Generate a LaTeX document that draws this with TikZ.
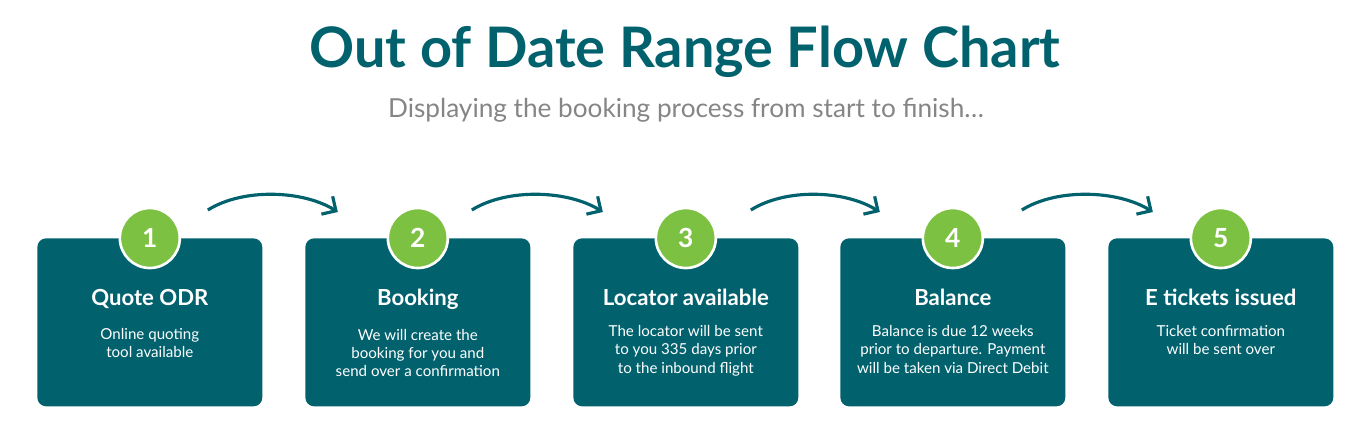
\documentclass[tikz,border=0pt]{standalone}
\usepackage{fontspec}
\setmainfont{Lato}
\usetikzlibrary{positioning,arrows.meta}
\definecolor{odrteal}{HTML}{01626E}
\definecolor{odrgreen}{HTML}{7DC142}
\definecolor{odrgrey}{HTML}{858585}

\begin{document}
\begin{tikzpicture}[x=0.02cm, y=-0.02cm]
        \tikzstyle{stage} = [rectangle, fill=odrteal, rounded corners=5pt,
            minimum width=4.5cm, minimum height=3.36cm, anchor=north west]
        \tikzstyle{badge} = [circle, fill=odrgreen, draw=white, line width=1.5pt,
            minimum size=1.2cm, text=white, font=\fontsize{15}{15}\selectfont\bfseries]
        \tikzstyle{heading} = [text=white, font=\fontsize{12.6}{14}\selectfont\bfseries]
        \tikzstyle{detail} = [text=white, align=center, font=\fontsize{8.6}{10.3}\selectfont]
        \tikzstyle{line} = [draw=odrteal, line width=1.8pt, -{Straight Barb[length=6pt,width=12pt]}]

        \useasboundingbox (0,0) rectangle (1371,434);
        \node [text=odrteal, font=\fontsize{31.8}{32}\selectfont\bfseries] (title) at (685,52) {Out of Date Range Flow Chart};
        \node [text=odrgrey, font=\fontsize{14.9}{15}\selectfont] (sub) at (686,110) {Displaying the booking process from start to finish\ldots};

        \node [stage] (box1) at (37,238) {};
        \node [stage] (box2) at (305,238) {};
        \node [stage] (box3) at (573,238) {};
        \node [stage] (box4) at (840,238) {};
        \node [stage] (box5) at (1108,238) {};

        \node [badge] (num1) at (box1.north) {1};
        \node [badge] (num2) at (box2.north) {2};
        \node [badge] (num3) at (box3.north) {3};
        \node [badge] (num4) at (box4.north) {4};
        \node [badge] (num5) at (box5.north) {5};

        \node [heading, below=0.9cm of box1.north] (head1) {Quote ODR};
        \node [heading, below=0.9cm of box2.north] (head2) {Booking};
        \node [heading, below=0.9cm of box3.north] (head3) {Locator available};
        \node [heading, below=0.9cm of box4.north] (head4) {Balance};
        \node [heading, below=0.9cm of box5.north] (head5) {E tickets issued};

        \node [detail, below=0.15cm of head1] {Online quoting\\tool available};
        \node [detail, below=0.15cm of head2] {We will create the\\booking for you and\\send over a confirmation};
        \node [detail, below=0.15cm of head3] {The locator will be sent\\to you 335 days prior\\to the inbound flight};
        \node [detail, below=0.15cm of head4] {Balance is due 12 weeks\\prior to departure. Payment\\will be taken via Direct Debit};
        \node [detail, below=0.15cm of head5] {Ticket confirmation\\will be sent over};

        \foreach \a/\b/\sx/\ex in {num1/num2/58/-80, num2/num3/54/-83, num3/num4/65/-73, num4/num5/69/-68} {
            \coordinate (s-\a) at ([shift={(\sx,-28)}]\a.center);
            \coordinate (e-\a) at ([shift={(\ex,-26)}]\b.center);
            \path [line] (s-\a) .. controls ([shift={(35,-22)}]s-\a) and ([shift={(-35,-22)}]e-\a) .. (e-\a);
        }
      \end{tikzpicture}
\end{document}
